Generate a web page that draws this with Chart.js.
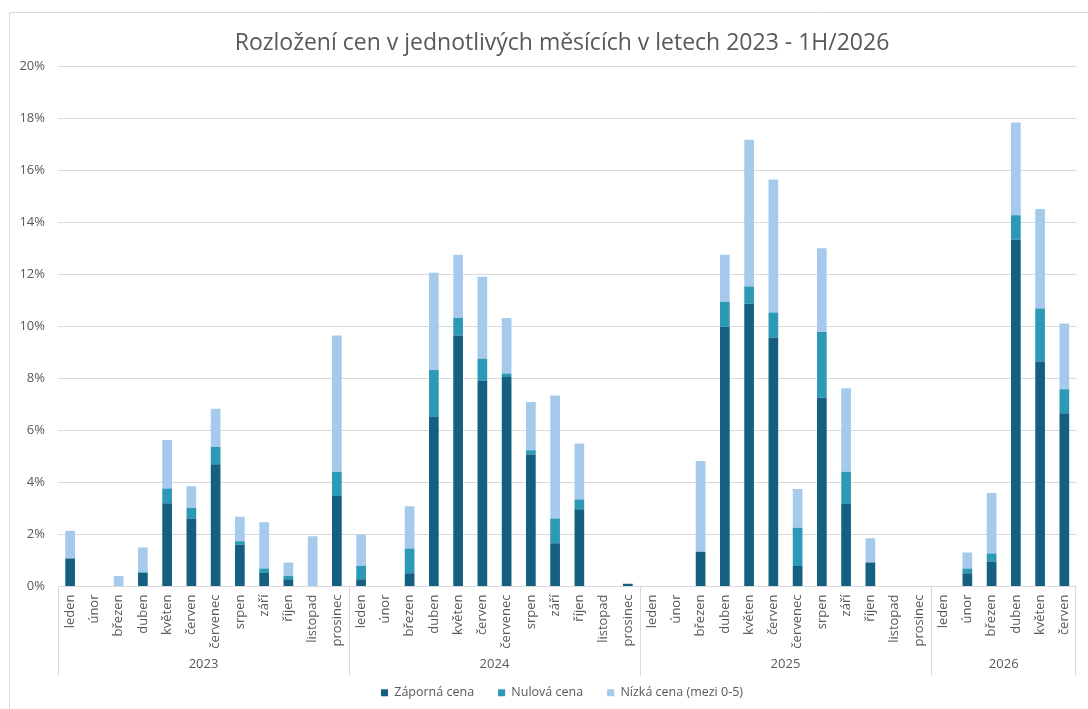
<!DOCTYPE html>
<html>
<head>
<meta charset="utf-8">
<script src="https://cdn.jsdelivr.net/npm/chart.js@4/dist/chart.umd.min.js"></script>
<style>
  html, body { margin: 0; padding: 0; background: #ffffff; }
  #wrap { position: relative; width: 1088px; height: 709px; }
</style>
</head>
<body>
<div id="wrap"><canvas id="c" width="1088" height="709"></canvas></div>
<script>
// ---- data ----
const monthNames = ['leden','únor','březen','duben','květen','červen','červenec','srpen','září','říjen','listopad','prosinec'];
const years = ['2023','2024','2025','2026'];
const monthsPerYear = [12, 12, 12, 6];
const yTicks = [0, 2, 4, 6, 8, 10, 12, 14, 16, 18, 20];
const titleText = 'Rozložení cen v jednotlivých měsících v letech 2023 - 1H/2026';
const seriesNames = ['Záporná cena', 'Nulová cena', 'Nízká cena (mezi 0-5)'];

// values in percent
const zaporna = [
  1.08, 0, 0, 0.52, 3.20, 2.62, 4.70, 1.61, 0.52, 0.28, 0, 3.48,
  0.28, 0, 0.51, 6.52, 9.66, 7.92, 8.06, 5.08, 1.66, 2.97, 0, 0.11,
  0, 0, 1.34, 9.99, 10.88, 9.57, 0.79, 7.26, 3.17, 0.92, 0, 0,
  0, 0.51, 0.95, 13.34, 8.66, 6.66
];
const nulova = [
  0, 0, 0, 0.03, 0.57, 0.41, 0.67, 0.13, 0.17, 0.13, 0, 0.93,
  0.52, 0, 0.95, 1.81, 0.67, 0.84, 0.13, 0.16, 0.96, 0.38, 0, 0,
  0, 0, 0, 0.96, 0.66, 0.97, 1.47, 2.53, 1.24, 0, 0, 0,
  0, 0.18, 0.32, 0.94, 2.03, 0.93
];
const nizka = [
  1.06, 0, 0.40, 0.95, 1.87, 0.83, 1.47, 0.94, 1.78, 0.51, 1.93, 5.25,
  1.20, 0, 1.63, 3.74, 2.43, 3.16, 2.14, 1.86, 4.73, 2.15, 0, 0,
  0, 0, 3.49, 1.81, 5.65, 5.12, 1.49, 3.22, 3.22, 0.94, 0, 0,
  0, 0.62, 2.33, 3.57, 3.83, 2.53
];

// ---- build category labels ----
const labels = [];
monthsPerYear.forEach(n => { for (let i = 0; i < n; i++) labels.push(monthNames[i]); });

const FONT = "'Open Sans', 'DejaVu Sans', sans-serif";
const TXT = '#595959';
const GRID = '#d9d9d9';

const groupAxisPlugin = {
  id: 'groupAxis',
  beforeDraw(chart) {
    const ctx = chart.ctx;
    ctx.save();
    ctx.strokeStyle = GRID;
    ctx.lineWidth = 1;
    ctx.beginPath();
    ctx.moveTo(9.5, 709);
    ctx.lineTo(9.5, 12.5);
    ctx.lineTo(1088, 12.5);
    ctx.stroke();
    ctx.restore();
  },
  afterDraw(chart) {
    const ctx = chart.ctx;
    const x = chart.scales.x;
    const area = chart.chartArea;
    const half = (x.getPixelForValue(1) - x.getPixelForValue(0)) / 2;
    const lineBottom = area.bottom + 89;
    ctx.save();
    ctx.strokeStyle = GRID;
    ctx.lineWidth = 1;
    ctx.fillStyle = TXT;
    ctx.font = '13px ' + FONT;
    ctx.textAlign = 'center';
    ctx.textBaseline = 'middle';
    let start = 0;
    monthsPerYear.forEach((n, gi) => {
      const left = x.getPixelForValue(start) - half;
      const right = x.getPixelForValue(start + n - 1) + half;
      ctx.beginPath();
      ctx.moveTo(Math.round(left) + 0.5, area.bottom);
      ctx.lineTo(Math.round(left) + 0.5, lineBottom);
      if (gi === monthsPerYear.length - 1) {
        ctx.moveTo(Math.round(right) - 0.5, area.bottom);
        ctx.lineTo(Math.round(right) - 0.5, lineBottom);
      }
      ctx.stroke();
      ctx.fillText(years[gi], (left + right) / 2, area.bottom + 78);
      start += n;
    });
    ctx.restore();
  }
};

new Chart(document.getElementById('c'), {
  type: 'bar',
  data: {
    labels: labels,
    datasets: [
      { label: seriesNames[0], data: zaporna, backgroundColor: '#156082' },
      { label: seriesNames[1], data: nulova, backgroundColor: '#2C9AB7' },
      { label: seriesNames[2], data: nizka, backgroundColor: '#A6CAEC' }
    ]
  },
  options: {
    responsive: false,
    animation: false,
    devicePixelRatio: 1,
    layout: { padding: { left: 40, right: 4, top: 0, bottom: 0 } },
    datasets: { bar: { barPercentage: 0.4, categoryPercentage: 1.0, borderWidth: 0 } },
    plugins: {
      title: {
        display: true,
        text: titleText,
        color: TXT,
        font: { family: FONT, size: 23, weight: 'normal' },
        padding: { top: 30, bottom: 9 }
      },
      legend: {
        position: 'bottom',
        labels: {
          color: TXT,
          font: { family: FONT, size: 12.5 },
          boxWidth: 7,
          boxHeight: 7,
          padding: 24
        }
      },
      tooltip: { enabled: false }
    },
    scales: {
      x: {
        stacked: true,
        grid: { display: false, drawTicks: false },
        border: { display: true, color: GRID },
        ticks: {
          color: TXT,
          font: { family: FONT, size: 13 },
          autoSkip: false,
          maxRotation: 90,
          minRotation: 90,
          padding: 8
        },
        afterFit(scale) { scale.height = 76; }
      },
      y: {
        stacked: true,
        min: 0,
        max: 20,
        afterBuildTicks(scale) { scale.ticks = yTicks.map(v => ({ value: v })); },
        grid: { color: GRID, drawTicks: false },
        border: { display: false },
        ticks: {
          color: TXT,
          font: { family: FONT, size: 13 },
          padding: 13,
          callback: v => v + '%'
        },
        afterFit(scale) {
          scale.width = 18;
          // let the tick labels extend left of the narrowed axis box
          scale._computeLabelArea = () => null;
        }
      }
    }
  },
  plugins: [groupAxisPlugin]
});
</script>
</body>
</html>
